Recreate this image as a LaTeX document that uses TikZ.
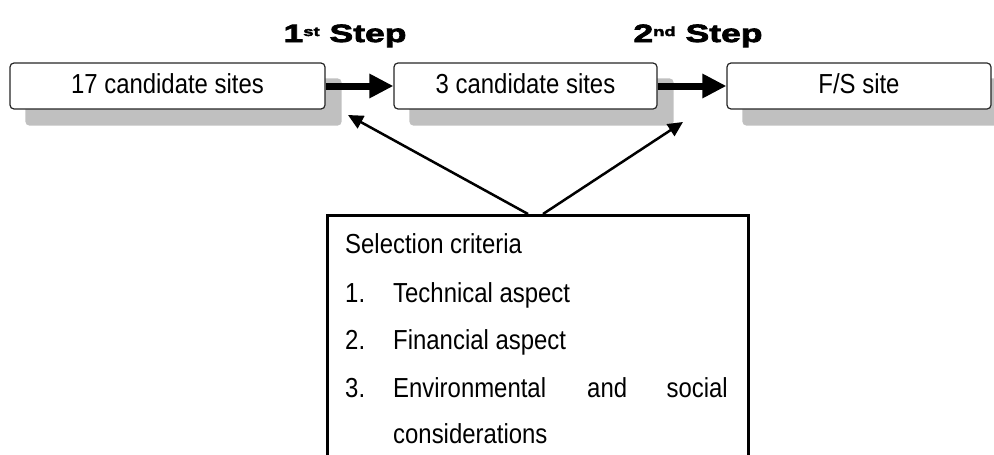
\documentclass[tikz,border=0pt]{standalone}
\usepackage{fontspec}
\setmainfont{Liberation Sans}[FakeStretch=0.87]
\newfontfamily\stepfont{Liberation Sans}[BoldFeatures={FakeStretch=1.42,FakeBold=3}]
\usetikzlibrary{arrows.meta}
\definecolor{shadowgray}{RGB}{192,192,192}
\pgfdeclarelayer{background}
\pgfsetlayers{background,main}
\begin{document}
\begin{tikzpicture}[x=1pt,y=-1pt,
  sitebox/.style={draw=black!85, line width=1.2pt, rounded corners=4pt, fill=white,
    minimum height=46pt, inner sep=0pt, text height=20pt, text depth=6pt,
    font=\fontsize{27.5}{30}\selectfont},
  shadowbox/.style={fill=shadowgray, rounded corners=4pt},
  bigarrow/.style={line width=7pt, -{Triangle[length=24pt,width=23pt]}},
  thinarrow/.style={line width=2.5pt, -{Triangle[length=15pt,width=14pt]}},
  steplabel/.style={font=\stepfont\bfseries\fontsize{25}{25}\selectfont, anchor=base, inner sep=0pt},
  crittext/.style={anchor=base west, font=\fontsize{27.5}{30}\selectfont, inner sep=0pt},
  critbox/.style={draw=black, line width=3pt, inner sep=0pt, anchor=north west}
]
\useasboundingbox (0,0) rectangle (994,455);
\clip (0,0) rectangle (994,455);

% site boxes
\node[sitebox, minimum width=315pt] (b1) at (167.5,86) {17 candidate sites};
\node[sitebox, minimum width=263pt] (b2) at (525.5,86) {3 candidate sites};
\node[sitebox, minimum width=264pt] (b3) at (859,86) {F/S site};

\begin{pgfonlayer}{background}
  \foreach \b in {b1,b2,b3}{
    \fill[shadowbox] ([shift={(16,16)}]\b.north west) rectangle ([shift={(16,16)}]\b.south east);
  }
\end{pgfonlayer}

% step arrows
\draw[bigarrow] (b1.east) -- (b2.west);
\draw[bigarrow] (b2.east) -- (b3.west);

% step labels
\node[steplabel] (st1) at (345,42) {1\raisebox{6pt}{\fontsize{13}{13}\selectfont st} Step};
\node[steplabel] (st2) at (698,42) {2\raisebox{6pt}{\fontsize{13}{13}\selectfont nd} Step};

% criteria box
\node[critbox, minimum width=421pt, minimum height=262pt] (crit) at (326,214) {};

\coordinate (s1) at (528,214);
\coordinate (s2) at (543,214);
\coordinate (t1) at (348,115);
\coordinate (t2) at (683,122);
\draw[thinarrow] (s1) -- (t1);
\draw[thinarrow] (s2) -- (t2);

\node[crittext] (ct) at (345,253) {Selection criteria};
\node[crittext] (n1) at (345,302) {1.};
\node[crittext] (i1) at (393,302) {Technical aspect};
\node[crittext] (n2) at (345,349) {2.};
\node[crittext] (i2) at (393,349) {Financial aspect};
\node[crittext] (n3) at (345,397) {3.};
\node[crittext] (i3a) at (393,397) {Environmental};
\node[crittext] (i3b) at (587,397) {and};
\node[crittext, anchor=base east] (i3c) at (728,397) {social};
\node[crittext] (i3d) at (393,443) {considerations};
\end{tikzpicture}
\end{document}
